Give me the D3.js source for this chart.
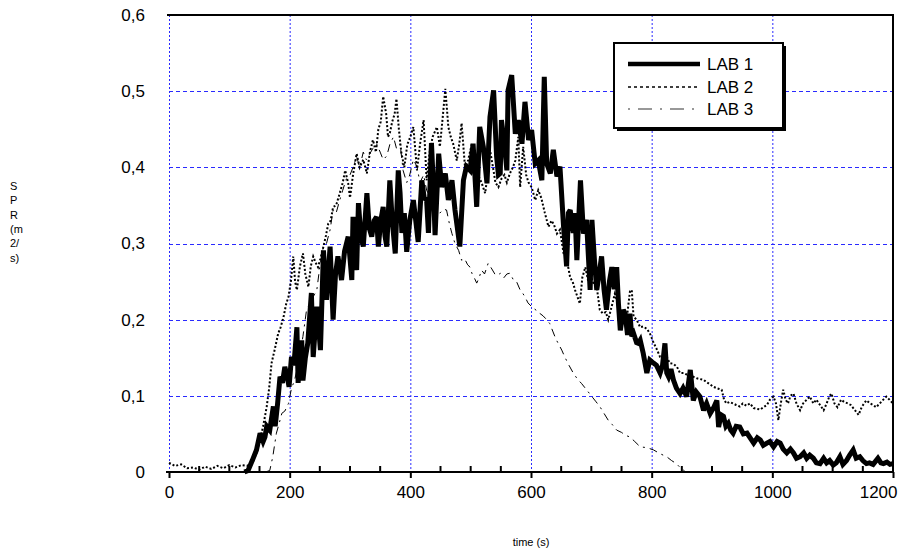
<!DOCTYPE html>
<html><head><meta charset="utf-8">
<script src="https://cdn.jsdelivr.net/npm/d3@7"></script>
<style>body{margin:0;background:#fff}svg{display:block}</style>
</head><body><svg id="c" width="910" height="554"></svg>
<script>
const xTicks = [0,200,400,600,800,1000,1200];
const yTicks = [0,0.1,0.2,0.3,0.4,0.5,0.6];
const yTickLabels = ["0","0,1","0,2","0,3","0,4","0,5","0,6"];
const seriesNames = ["LAB 1","LAB 2","LAB 3"];
const xTitle = "time (s)";
const yTitleLines = ["S","P","R","(m","2/","s)"];

const lab1 = [[125,0],[131,0.002],[138,0.015],[145,0.029],[151,0.051],[156,0.04],[159,0.046],[162,0.06],[167,0.055],[173,0.086],[176,0.06],[180,0.09],[184,0.125],[188,0.117],[192,0.138],[196,0.125],[199,0.112],[203,0.151],[207,0.14],[212,0.19],[214,0.117],[220,0.173],[222,0.12],[226,0.15],[230,0.169],[236,0.235],[239,0.151],[245,0.217],[248,0.19],[251,0.16],[256,0.291],[261,0.226],[267,0.296],[272,0.2],[276,0.26],[280,0.283],[286,0.252],[291,0.29],[297,0.309],[303,0.252],[305,0.335],[311,0.265],[314,0.353],[318,0.31],[322,0.296],[328,0.366],[332,0.32],[336,0.309],[340,0.33],[344,0.335],[347,0.296],[351,0.33],[355,0.348],[358,0.31],[361,0.296],[366,0.383],[370,0.33],[375,0.287],[380,0.396],[383,0.366],[386,0.314],[390,0.34],[394,0.289],[399,0.33],[405,0.357],[409,0.33],[413,0.302],[419,0.383],[423,0.36],[427,0.357],[430,0.314],[435,0.432],[438,0.38],[441,0.311],[447,0.418],[452,0.374],[458,0.392],[463,0.357],[469,0.383],[474,0.344],[478,0.32],[482,0.296],[488,0.383],[493,0.401],[499,0.396],[504,0.431],[510,0.348],[515,0.453],[521,0.427],[527,0.379],[532,0.466],[538,0.501],[543,0.414],[546,0.39],[549,0.392],[551,0.462],[556,0.43],[560,0.396],[562,0.501],[568,0.521],[574,0.444],[579,0.462],[585,0.431],[590,0.486],[596,0.436],[601,0.449],[607,0.405],[612,0.409],[618,0.383],[622,0.519],[626,0.405],[632,0.392],[637,0.423],[643,0.388],[648,0.401],[654,0.322],[659,0.27],[662,0.34],[665,0.344],[670,0.314],[673,0.34],[676,0.278],[682,0.383],[687,0.313],[692,0.331],[698,0.239],[701,0.331],[705,0.28],[709,0.239],[713,0.26],[717,0.283],[721,0.24],[725,0.213],[730,0.25],[734,0.269],[738,0.24],[742,0.269],[745,0.22],[748,0.186],[753,0.213],[756,0.208],[760,0.18],[764,0.208],[767,0.178],[770,0.182],[775,0.17],[778,0.169],[781,0.173],[786,0.156],[792,0.13],[797,0.147],[803,0.143],[808,0.14],[814,0.13],[818,0.14],[822,0.169],[825,0.13],[828,0.125],[832,0.135],[836,0.121],[841,0.11],[847,0.103],[852,0.11],[858,0.099],[864,0.134],[869,0.094],[874,0.105],[880,0.099],[886,0.081],[891,0.09],[897,0.077],[903,0.085],[908,0.094],[911,0.059],[915,0.075],[919,0.073],[923,0.06],[927,0.064],[931,0.055],[935,0.051],[940,0.06],[946,0.059],[952,0.05],[958,0.051],[963,0.045],[969,0.038],[975,0.045],[980,0.042],[985,0.035],[991,0.038],[996,0.04],[1002,0.033],[1008,0.04],[1013,0.038],[1018,0.03],[1024,0.025],[1030,0.03],[1035,0.025],[1040,0.018],[1046,0.02],[1052,0.025],[1057,0.018],[1062,0.022],[1068,0.018],[1073,0.012],[1079,0.011],[1085,0.018],[1090,0.012],[1095,0.015],[1101,0.009],[1106,0.012],[1112,0.02],[1117,0.01],[1123,0.015],[1128,0.022],[1134,0.029],[1139,0.018],[1145,0.02],[1150,0.015],[1156,0.011],[1161,0.012],[1167,0.01],[1172,0.015],[1175,0.018],[1180,0.012],[1184,0.011],[1190,0.013],[1195,0.01],[1200,0.011]];

const lab2 = [[0,0.012],[10,0.008],[20,0.01],[30,0.005],[40,0.006],[50,0.003],[60,0.007],[70,0.004],[80,0.008],[90,0.005],[100,0.009],[110,0.006],[120,0.009],[130,0.008],[140,0.015],[145,0.025],[151,0.042],[156,0.06],[162,0.086],[166,0.11],[170,0.143],[175,0.16],[181,0.182],[185,0.19],[190,0.204],[194,0.22],[198,0.23],[202,0.25],[206,0.283],[209,0.25],[212,0.239],[217,0.27],[222,0.287],[226,0.26],[231,0.243],[235,0.27],[239,0.283],[243,0.275],[247,0.269],[251,0.28],[256,0.296],[260,0.31],[264,0.326],[268,0.33],[272,0.348],[277,0.35],[283,0.366],[288,0.38],[292,0.396],[297,0.379],[300,0.36],[305,0.39],[311,0.418],[316,0.4],[322,0.41],[328,0.392],[333,0.42],[338,0.436],[343,0.42],[347,0.45],[351,0.46],[355,0.493],[360,0.47],[363,0.44],[366,0.445],[370,0.46],[374,0.47],[377,0.49],[381,0.45],[385,0.42],[390,0.4],[395,0.43],[400,0.44],[405,0.453],[411,0.396],[416,0.43],[422,0.462],[427,0.383],[432,0.42],[437,0.44],[444,0.453],[449,0.427],[453,0.46],[458,0.503],[463,0.453],[467,0.44],[471,0.431],[477,0.409],[481,0.43],[485,0.458],[491,0.396],[496,0.41],[502,0.431],[507,0.41],[512,0.39],[518,0.38],[524,0.366],[528,0.39],[532,0.423],[537,0.4],[541,0.38],[546,0.374],[551,0.385],[556,0.39],[560,0.38],[565,0.392],[570,0.4],[574,0.409],[579,0.44],[582,0.374],[587,0.427],[592,0.39],[596,0.38],[601,0.374],[607,0.357],[612,0.37],[617,0.36],[623,0.34],[629,0.322],[634,0.33],[638,0.325],[643,0.313],[648,0.318],[654,0.287],[659,0.28],[665,0.255],[669,0.25],[673,0.239],[677,0.23],[681,0.221],[685,0.255],[690,0.269],[695,0.25],[700,0.255],[705,0.245],[709,0.243],[714,0.213],[719,0.208],[724,0.21],[728,0.2],[733,0.215],[739,0.234],[744,0.22],[750,0.204],[756,0.205],[760,0.21],[764,0.237],[767,0.239],[770,0.204],[775,0.2],[781,0.19],[786,0.191],[792,0.188],[797,0.182],[803,0.17],[808,0.162],[814,0.151],[819,0.15],[825,0.151],[830,0.143],[836,0.142],[842,0.138],[847,0.13],[853,0.13],[858,0.128],[864,0.127],[869,0.125],[875,0.123],[880,0.122],[886,0.121],[891,0.118],[897,0.115],[902,0.112],[908,0.11],[912,0.109],[916,0.108],[920,0.095],[924,0.09],[929,0.092],[935,0.09],[940,0.088],[946,0.086],[951,0.09],[957,0.087],[963,0.09],[969,0.084],[974,0.083],[980,0.082],[985,0.085],[991,0.088],[996,0.095],[1002,0.099],[1006,0.09],[1010,0.068],[1014,0.09],[1018,0.108],[1022,0.095],[1026,0.09],[1030,0.1],[1035,0.103],[1040,0.09],[1046,0.081],[1051,0.09],[1057,0.095],[1062,0.099],[1068,0.09],[1073,0.095],[1079,0.088],[1085,0.081],[1090,0.09],[1095,0.1],[1098,0.103],[1103,0.09],[1108,0.085],[1114,0.095],[1119,0.092],[1125,0.09],[1130,0.088],[1136,0.082],[1143,0.075],[1148,0.085],[1152,0.09],[1156,0.094],[1162,0.09],[1167,0.088],[1172,0.085],[1178,0.09],[1184,0.095],[1189,0.099],[1194,0.095],[1200,0.09]];

const lab3 = [[150,0],[160,0],[167,0.002],[172,0.02],[178,0.051],[183,0.065],[187,0.077],[192,0.08],[198,0.09],[203,0.11],[208,0.12],[212,0.134],[217,0.155],[222,0.178],[228,0.213],[233,0.22],[239,0.23],[245,0.239],[250,0.27],[256,0.296],[261,0.3],[267,0.318],[272,0.344],[277,0.34],[283,0.357],[288,0.37],[294,0.385],[300,0.39],[305,0.4],[311,0.414],[316,0.4],[322,0.42],[327,0.41],[333,0.418],[338,0.425],[344,0.431],[350,0.42],[355,0.41],[361,0.415],[366,0.43],[372,0.44],[377,0.425],[383,0.431],[388,0.396],[394,0.38],[399,0.39],[405,0.41],[411,0.401],[416,0.38],[422,0.39],[427,0.37],[433,0.36],[438,0.35],[444,0.34],[449,0.34],[455,0.345],[460,0.344],[465,0.325],[469,0.313],[474,0.3],[480,0.291],[485,0.278],[490,0.28],[495,0.272],[499,0.269],[502,0.261],[506,0.255],[510,0.248],[514,0.255],[518,0.265],[523,0.26],[529,0.274],[534,0.268],[540,0.26],[545,0.258],[549,0.261],[555,0.255],[560,0.26],[565,0.261],[571,0.252],[576,0.25],[582,0.239],[586,0.235],[590,0.23],[595,0.222],[600,0.218],[604,0.217],[610,0.21],[615,0.208],[620,0.205],[626,0.2],[631,0.195],[636,0.185],[641,0.175],[645,0.169],[651,0.16],[656,0.151],[663,0.14],[670,0.13],[677,0.122],[684,0.116],[692,0.108],[701,0.099],[707,0.093],[714,0.086],[721,0.077],[728,0.068],[735,0.062],[742,0.055],[750,0.052],[757,0.048],[764,0.046],[772,0.04],[781,0.033],[792,0.032],[803,0.029],[814,0.024],[825,0.02],[833,0.015],[841,0.011],[847,0.006],[852,0.003],[856,0]];

const svg = d3.select("#c");
const L = 169, R = 893, T = 15, B = 472;
const x = d3.scaleLinear().domain([0,1200]).range([L,R]);
const y = d3.scaleLinear().domain([0,0.6]).range([B,T]);
const font = "'Liberation Sans', Arial, sans-serif";
const grid = "#2a2aff";

// gridlines
svg.append("g").selectAll("line").data(xTicks.filter(d=>d<1200)).join("line")
  .attr("x1",d=>x(d)+0.5).attr("x2",d=>x(d)+0.5).attr("y1",T).attr("y2",B)
  .attr("stroke",grid).attr("stroke-width",1).attr("stroke-dasharray","2,2");
svg.append("g").selectAll("line").data(yTicks.filter(d=>d>0 && d<0.6)).join("line")
  .attr("x1",L).attr("x2",R).attr("y1",d=>Math.round(y(d))+0.5).attr("y2",d=>Math.round(y(d))+0.5)
  .attr("stroke",grid).attr("stroke-width",1).attr("stroke-dasharray","4,3");

// series
const line = d3.line().x(d=>x(d[0])).y(d=>y(d[1]));
svg.append("path").datum(lab3).attr("d",line).attr("fill","none")
  .attr("stroke","#000").attr("stroke-width",1).attr("stroke-dasharray","2,5,8,5");
svg.append("path").datum(lab2).attr("d",line).attr("fill","none")
  .attr("stroke","#000").attr("stroke-width",2).attr("stroke-dasharray","2,2");
svg.append("path").datum(lab1).attr("d",line).attr("fill","none")
  .attr("stroke","#000").attr("stroke-width",5).attr("stroke-linejoin","miter").attr("stroke-miterlimit",3);

// frame
svg.append("line").attr("x1",L-2).attr("x2",R+1).attr("y1",T).attr("y2",T).attr("stroke","#000").attr("stroke-width",2);
svg.append("line").attr("x1",R).attr("x2",R).attr("y1",T).attr("y2",B).attr("stroke","#000").attr("stroke-width",2);

// x axis
const xAxis = d3.axisBottom(x).tickValues(xTicks).tickSize(6).tickFormat(d=>String(d));
const gx = svg.append("g").attr("transform",`translate(0,${B})`).call(xAxis);
gx.select(".domain").attr("stroke","#000").attr("stroke-width",2).attr("d",`M${L-3},0H${R+1}`);
gx.selectAll(".tick line").attr("stroke","#000").attr("stroke-width",2);
gx.selectAll(".tick text").attr("font-family",font).attr("font-size",17).attr("fill","#000").attr("y",14);
gx.selectAll(".tick text").filter(d=>d===1200).attr("text-anchor","end").attr("x",4);
const minor = d3.range(0,1201,50).filter(d=>d%200!==0);
svg.append("g").selectAll("line").data(minor).join("line")
  .attr("x1",d=>x(d)).attr("x2",d=>x(d)).attr("y1",B-6).attr("y2",B)
  .attr("stroke","#000").attr("stroke-width",2);

// y labels
svg.append("g").selectAll("text").data(yTicks).join("text")
  .attr("x",145).attr("y",d=>y(d)).attr("dy","0.35em").attr("text-anchor","end")
  .attr("font-family",font).attr("font-size",17).text((d,i)=>yTickLabels[i]);

// titles
svg.append("text").attr("x",(L+R)/2).attr("y",546).attr("text-anchor","middle")
  .attr("font-family",font).attr("font-size",11).text(xTitle);
svg.append("g").selectAll("text").data(yTitleLines).join("text")
  .attr("x",10).attr("y",(d,i)=>190+i*14.3).attr("font-family",font).attr("font-size",11).text(d=>d);

// legend
const lg = svg.append("g");
lg.append("rect").attr("x",617).attr("y",46).attr("width",169).attr("height",85).attr("fill","#000");
lg.append("rect").attr("x",614).attr("y",43).attr("width",169).attr("height",85).attr("fill","#fff").attr("stroke","#000").attr("stroke-width",2);
const ly = [64,87,109];
const styles = [{w:4.5,da:null},{w:1.3,da:"3,3"},{w:1.3,da:"2,8,14,8",c:"#777"}];
seriesNames.forEach((n,i)=>{
  const s = styles[i];
  const l = lg.append("line").attr("x1",628).attr("x2",700).attr("y1",ly[i]).attr("y2",ly[i])
    .attr("stroke",s.c||"#000").attr("stroke-width",s.w);
  if (s.da) l.attr("stroke-dasharray",s.da);
  lg.append("text").attr("x",707).attr("y",ly[i]).attr("dy","0.35em")
    .attr("font-family",font).attr("font-size",17).text(n);
});
</script></body></html>
